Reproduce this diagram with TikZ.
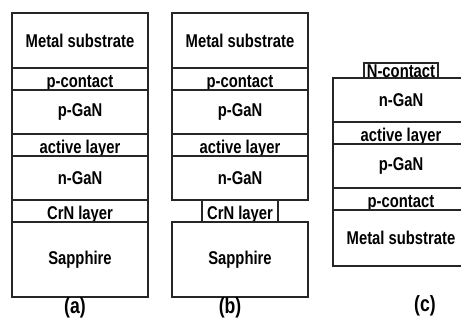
\documentclass[tikz,border=0pt]{standalone}
\usepackage{fontspec}
\setsansfont{Liberation Sans}[FakeStretch=0.8]
\usetikzlibrary{positioning}

\begin{document}
\begin{tikzpicture}[
  font=\sffamily\bfseries\fontsize{18.5}{20}\selectfont,
  layer/.style={draw=black!85, line width=1.3pt, minimum width=136pt,
    inner sep=0pt, outer sep=0pt, align=center},
  thicklayer/.style={layer, minimum height=44pt},
  thinlayer/.style={layer, minimum height=22pt, text height=17.5pt,
    text depth=0pt},
  caption/.style={font=\sffamily\bfseries\fontsize{22}{24}\selectfont,
    inner sep=0pt},
]
  \useasboundingbox (0,0) rectangle (461pt,-320pt);

  % (a) grown on sapphire
  \node[layer, minimum height=55pt, anchor=north west] (a-metal)
    at (12pt,-13pt) {Metal substrate};
  \node[thinlayer, below=0pt of a-metal] (a-pcontact) {p-contact};
  \node[thicklayer, below=0pt of a-pcontact] (a-pgan) {p-GaN};
  \node[thinlayer, below=0pt of a-pgan] (a-active) {active layer};
  \node[thicklayer, below=0pt of a-active] (a-ngan) {n-GaN};
  \node[thinlayer, below=0pt of a-ngan] (a-crn) {CrN layer};
  \node[layer, minimum height=75pt, below=0pt of a-crn] (a-sapphire)
    {Sapphire};
  \node[caption, below=0pt of a-sapphire, xshift=-5pt] (a-label) {(a)};

  % (b) CrN layer etched
  \node[layer, minimum height=55pt, anchor=north west] (b-metal)
    at (172pt,-13pt) {Metal substrate};
  \node[thinlayer, below=0pt of b-metal] (b-pcontact) {p-contact};
  \node[thicklayer, below=0pt of b-pcontact] (b-pgan) {p-GaN};
  \node[thinlayer, below=0pt of b-pgan] (b-active) {active layer};
  \node[thicklayer, below=0pt of b-active] (b-ngan) {n-GaN};
  \node[thinlayer, minimum width=76pt, below=0pt of b-ngan] (b-crn)
    {CrN layer};
  \node[layer, minimum height=75pt, below=0pt of b-crn] (b-sapphire)
    {Sapphire};
  \node[caption, below=0pt of b-sapphire, xshift=-10pt] (b-label) {(b)};

  % (c) flipped, sapphire removed
  \node[layer, minimum width=74pt, minimum height=15pt, text height=14pt,
    text depth=0pt, anchor=north] (c-ncontact) at (401pt,-63pt) {N-contact};
  \node[thicklayer, below=0pt of c-ncontact] (c-ngan) {n-GaN};
  \node[thinlayer, below=0pt of c-ngan] (c-active) {active layer};
  \node[thicklayer, below=0pt of c-active] (c-pgan) {p-GaN};
  \node[thinlayer, below=0pt of c-pgan] (c-pcontact) {p-contact};
  \node[layer, minimum height=56pt, below=0pt of c-pcontact] (c-metal)
    {Metal substrate};
  \node[caption, below=29pt of c-metal, xshift=24pt] (c-label) {(c)};
\end{tikzpicture}
\end{document}
